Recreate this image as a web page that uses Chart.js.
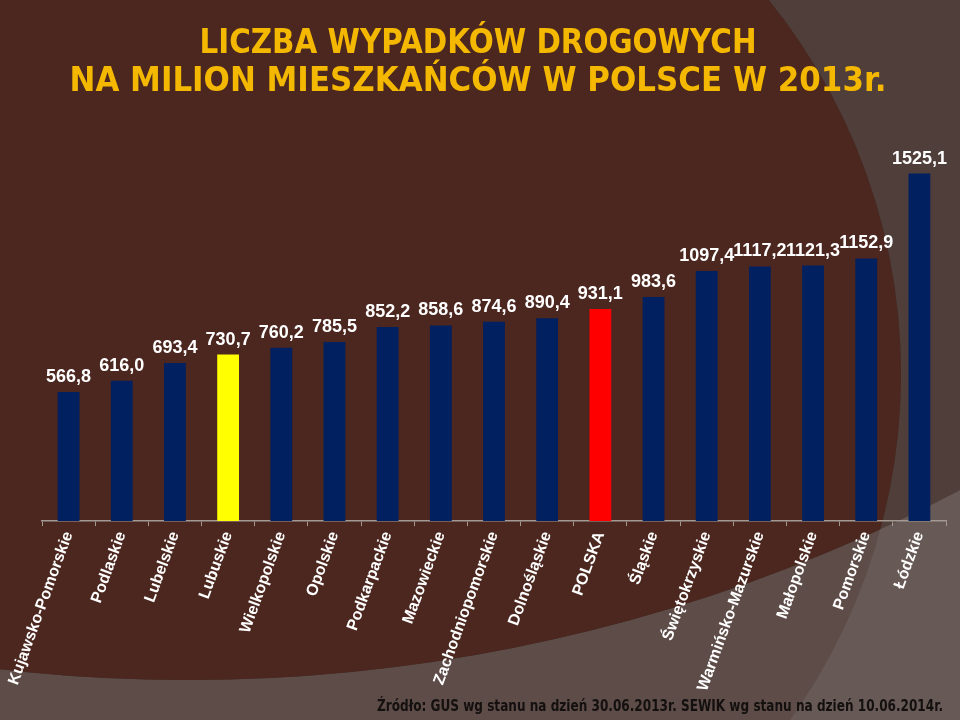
<!DOCTYPE html>
<html>
<head>
<meta charset="utf-8">
<script src="https://cdn.jsdelivr.net/npm/chart.js@4/dist/chart.umd.min.js"></script>
<style>
  html, body { margin: 0; padding: 0; background: #4b271f; }
  canvas { display: block; }
</style>
</head>
<body>
<canvas id="c" width="960" height="720"></canvas>
<script>
// ---- data ----
const categories = ["Kujawsko-Pomorskie","Podlaskie","Lubelskie","Lubuskie","Wielkopolskie","Opolskie","Podkarpackie","Mazowieckie","Zachodniopomorskie","Dolnośląskie","POLSKA","Śląskie","Świętokrzyskie","Warmińsko-Mazurskie","Małopolskie","Pomorskie","Łódzkie"];
const values = [566.8,616.0,693.4,730.7,760.2,785.5,852.2,858.6,874.6,890.4,931.1,983.6,1097.4,1117.2,1121.3,1152.9,1525.1];
const titleLines = ["LICZBA WYPADKÓW DROGOWYCH","NA MILION MIESZKAŃCÓW W POLSCE W 2013r."];
const sourceNote = "Źródło: GUS wg stanu na dzień 30.06.2013r. SEWIK wg stanu na dzień 10.06.2014r.";
const highlightYellow = "Lubuskie";
const highlightRed = "POLSKA";

const barColors = categories.map(c => c === highlightYellow ? "#ffff00" : (c === highlightRed ? "#ff0000" : "#00205f"));
const fmt = v => v.toFixed(1).replace(".", ",");

function fitText(ctx, text, x, y, width, align) {
  const w = ctx.measureText(text).width;
  const s = width / w;
  ctx.save();
  let left = align === "center" ? x - width / 2 : x;
  ctx.translate(left, y);
  ctx.scale(s, 1);
  ctx.textAlign = "left";
  ctx.fillText(text, 0, 0);
  ctx.restore();
}

const bgPlugin = {
  id: "bg",
  beforeDraw(chart) {
    const ctx = chart.ctx;
    const W = chart.width, H = chart.height;
    ctx.save();
    ctx.fillStyle = "#675955";
    ctx.fillRect(0, 0, W, H);
    ctx.save();
    ctx.beginPath();
    ctx.arc(188, -985, 1665, 0, Math.PI * 2);
    ctx.clip();
    ctx.fillStyle = "#4f3e39";
    ctx.fillRect(0, 0, W, H);
    ctx.restore();
    ctx.save();
    ctx.beginPath();
    ctx.arc(306, 374, 595, 0, Math.PI * 2);
    ctx.clip();
    ctx.fillStyle = "#5d4c47";
    ctx.fillRect(0, 0, W, H);
    ctx.beginPath();
    ctx.arc(188, -985, 1665, 0, Math.PI * 2);
    ctx.clip();
    ctx.shadowColor = "rgba(0,0,0,0.35)";
    ctx.shadowBlur = 8;
    ctx.fillStyle = "#4b271f";
    ctx.fillRect(-50, -50, W + 100, H + 100);
    ctx.restore();
    ctx.restore();
  },
  afterDraw(chart) {
    const ctx = chart.ctx;
    ctx.save();
    ctx.fillStyle = "#f5b800";
    ctx.font = "bold 33px 'Comic Sans MS', 'DejaVu Sans', sans-serif";
    ctx.textBaseline = "alphabetic";
    fitText(ctx, titleLines[0], 478, 53, 557, "center");
    fitText(ctx, titleLines[1], 478, 91, 817, "center");
    ctx.fillStyle = "#141010";
    ctx.font = "bold 15px 'Comic Sans MS', 'DejaVu Sans', sans-serif";
    fitText(ctx, sourceNote, 377, 711, 566, "left");
    const meta = chart.getDatasetMeta(0);
    ctx.fillStyle = "#ffffff";
    ctx.font = "bold 18px 'Liberation Sans', Arial, sans-serif";
    ctx.textAlign = "center";
    ctx.textBaseline = "bottom";
    meta.data.forEach((bar, i) => {
      ctx.fillText(fmt(values[i]), bar.x, bar.y - 6);
    });
    ctx.restore();
  }
};

Chart.defaults.font.family = "'Liberation Sans', Arial, sans-serif";

new Chart(document.getElementById("c"), {
  type: "bar",
  data: {
    labels: categories,
    datasets: [{
      data: values,
      backgroundColor: barColors,
      borderWidth: 0,
      barPercentage: 0.41,
      categoryPercentage: 1.0
    }]
  },
  options: {
    responsive: false,
    animation: false,
    devicePixelRatio: 1,
    layout: { padding: { top: 111, left: 42, right: 14, bottom: 0 } },
    plugins: { legend: { display: false }, tooltip: { enabled: false }, title: { display: false } },
    scales: {
      y: { display: false, min: 0, max: 1800 },
      x: {
        offset: true,
        grid: { offset: true, drawOnChartArea: false, drawTicks: true, tickLength: 5, color: "#a39a94", lineWidth: 1 },
        border: { display: true, color: "#a39a94", width: 1.5 },
        ticks: {
          color: "#ffffff",
          font: { size: 16, weight: "bold" },
          minRotation: 70,
          maxRotation: 70,
          autoSkip: false,
          padding: 3
        },
        afterFit(scale) { scale.height = 199; }
      }
    }
  },
  plugins: [bgPlugin]
});
</script>
</body>
</html>
